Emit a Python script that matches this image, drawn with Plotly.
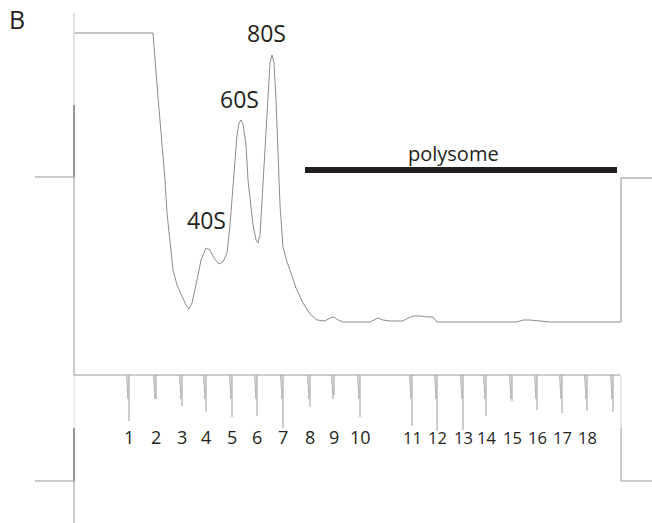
import plotly.graph_objects as go

# Absorbance profile (distance along gradient, absorbance in arbitrary units above baseline)
distance = [1, 79, 83, 88, 91, 93, 96, 99, 103, 108, 112, 115, 118, 123, 127, 132, 136, 140,
            145, 149, 153, 156, 158, 160, 163, 165, 167, 169, 172, 174, 176, 179, 182, 184,
            186, 188, 189, 191, 194, 196, 198, 200, 202, 204, 205, 206, 209, 213, 216, 222,
            229, 236, 243, 251, 256, 260, 264, 269, 296, 301, 304, 309, 316, 329, 334, 339,
            346, 354, 359, 363, 443, 449, 456, 476, 547, 547, 578]
absorbance = [289, 289, 237, 179, 142, 109, 77, 52, 37, 25, 17, 13, 19, 42, 62, 74, 72, 64,
              58, 60, 69, 97, 122, 152, 187, 199, 202, 198, 177, 142, 122, 97, 82, 79,
              87, 122, 142, 182, 232, 259, 267, 259, 222, 172, 142, 117, 75, 60, 52, 34,
              19, 8, 2, 1, 4, 5, 2, 0, 0, 3, 4, 2, 1, 1, 4, 6,
              6, 5, 5, 0, 0, 2, 2, 0, 0, 144, 144]

# Peak labels
peak_names = ["40S", "60S", "80S"]
peak_x = [132, 165, 192]
peak_y = [102, 223, 289]

# Fraction marks
fraction_pos = [55, 82, 108, 132, 158, 183, 209, 236, 260, 286, 338, 363, 389, 412, 438,
                463, 488, 513, 539]
fraction_len = [-99, -77, -84, -90, -95, -94, -106, -85, -73, -95, -104, -109, -108, -94,
                -79, -88, -91, -89, -90]
fraction_labels = [str(i) for i in range(1, 19)]

# Polysome region
poly_start, poly_end, poly_level = 231, 543, 152

FRAC_BASE = -53
LOW_STEP = -159

fig = go.Figure()

def seg(xs, ys, color, width=1):
    fig.add_trace(go.Scatter(x=xs, y=ys, mode="lines", hoverinfo="skip",
                             line=dict(color=color, width=width), showlegend=False))

# Left frame
seg([0, 0], [309, 217], "#c8c8c8")
seg([0, 0], [217, 145], "#333333")
seg([0, 0], [145, FRAC_BASE], "#999999")
seg([0, 0], [FRAC_BASE, -106], "#dddddd")
seg([0, 0], [-106, LOW_STEP], "#333333")
seg([0, 0], [LOW_STEP, -201], "#999999")
seg([-39, 0], [145, 145], "#999999")
seg([-39, 0], [LOW_STEP, LOW_STEP], "#999999")

# Profile trace
seg(distance, absorbance, "#8c8c8c")

# Fraction collector line
seg([0, 546], [FRAC_BASE, FRAC_BASE], "#999999")
seg([547, 547], [FRAC_BASE, -106], "#cccccc")
seg([547, 547], [-106, LOW_STEP], "#999999")
seg([547, 578], [LOW_STEP, LOW_STEP], "#999999")

tx, ty, nx, ny = [], [], [], []
for p, e in zip(fraction_pos, fraction_len):
    tx += [p, p, None]
    ty += [FRAC_BASE, e, None]
    nx += [p - 2.5, p - 1, p - 1, None]
    ny += [FRAC_BASE, FRAC_BASE - 24, FRAC_BASE, None]
fig.add_trace(go.Scatter(x=tx, y=ty, mode="lines", hoverinfo="skip",
                         line=dict(color="#9a9a9a", width=1), showlegend=False))
fig.add_trace(go.Scatter(x=nx, y=ny, mode="lines", hoverinfo="skip",
                         line=dict(color="#b5b5b5", width=1), showlegend=False))

# Polysome bar
seg([poly_start, poly_end], [poly_level, poly_level], "#231f20", 6)

font = "Open Sans"
for name, x, y in zip(peak_names, peak_x, peak_y):
    fig.add_annotation(x=x, y=y, text=name, showarrow=False,
                       font=dict(family=font, size=23, color="#231f20"))
fig.add_annotation(x=(poly_start + poly_end) / 2 - 8, y=169, text="polysome", showarrow=False,
                   font=dict(family=font, size=20, color="#231f20"))
fig.add_annotation(x=-57, y=303, text="B", showarrow=False, borderpad=0,
                   font=dict(family=font, size=25, color="#231f20"))

for i, lab in enumerate(fraction_labels):
    fig.add_annotation(x=fraction_pos[i], y=-115, text=lab, showarrow=False,
                       font=dict(family=font, size=18 if i < 10 else 16.5, color="#231f20"))

fig.update_layout(
    width=652, height=523,
    margin=dict(l=0, r=0, t=0, b=0),
    plot_bgcolor="white", paper_bgcolor="white",
    xaxis=dict(range=[-74, 578], visible=False, fixedrange=True),
    yaxis=dict(range=[-201, 322], visible=False, fixedrange=True),
)

fig.write_html(
    "out.html",
    config=dict(displayModeBar=False),
    post_script="document.body.style.margin='0';document.body.style.overflow='hidden';",
)
